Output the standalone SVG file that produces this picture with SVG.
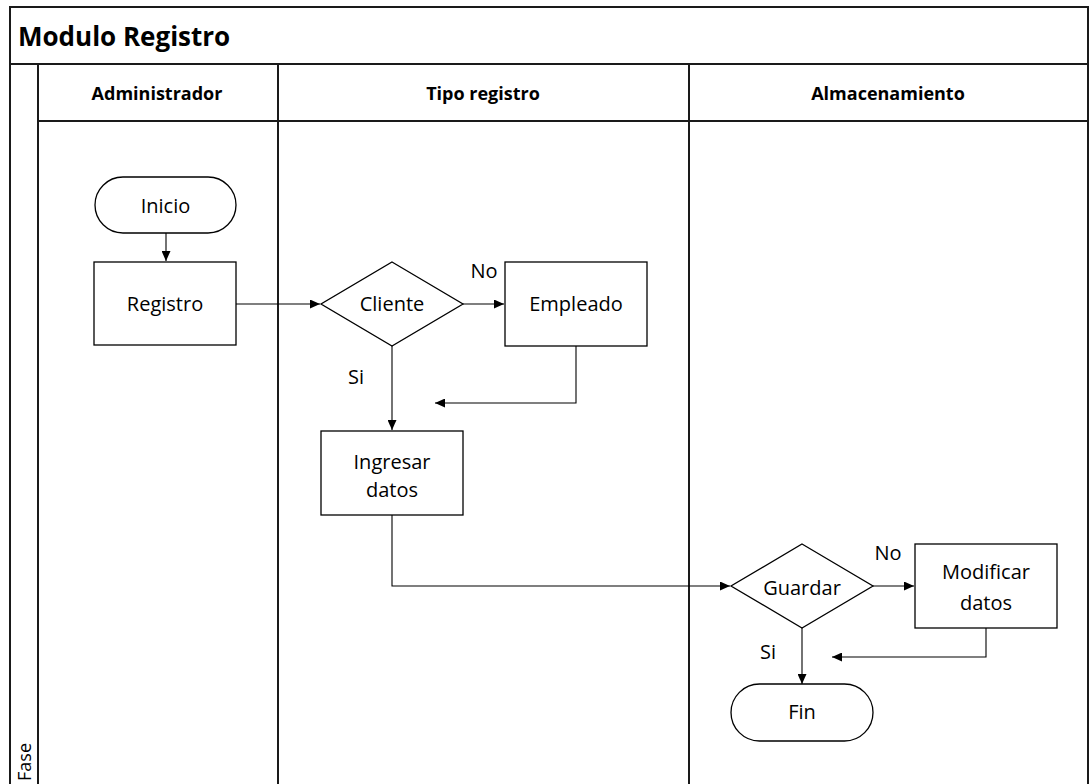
<svg xmlns="http://www.w3.org/2000/svg" width="1091" height="784" viewBox="0 0 1091 784">
  <defs>
    <marker id="arrow" viewBox="0 0 10 10" refX="10" refY="5" markerWidth="10" markerHeight="9" markerUnits="userSpaceOnUse" orient="auto" preserveAspectRatio="none">
      <path d="M0,0 L10,5 L0,10 Z" fill="#000"/>
    </marker>
    <style>
      .frame { fill: none; stroke: #1a1a1a; stroke-width: 2; }
      .shape { fill: #fff; stroke: #000; stroke-width: 1.3; }
      .edge { fill: none; stroke: #000; stroke-width: 1.1; marker-end: url(#arrow); }
      .title { font-family: "Open Sans", "Noto Sans", sans-serif; font-weight: bold; font-size: 26px; fill: #000; }
      .lane { font-family: "Open Sans", "Noto Sans", sans-serif; font-weight: bold; font-size: 18px; fill: #000; text-anchor: middle; }
      .label { font-family: "Open Sans", "Noto Sans", sans-serif; font-size: 20px; fill: #000; text-anchor: middle; }
    </style>
  </defs>

  <rect width="1091" height="784" fill="#fff"/>

  <!-- pool frame with title, lane headers and phase column -->
  <g id="pool">
    <path class="frame" d="M10,790 V7 H1088 V790"/>
    <line class="frame" x1="10" y1="64" x2="1088" y2="64"/>
    <line class="frame" x1="38" y1="121" x2="1088" y2="121"/>
    <line class="frame" x1="38" y1="64" x2="38" y2="790"/>
    <line class="frame" x1="278" y1="64" x2="278" y2="790"/>
    <line class="frame" x1="689" y1="64" x2="689" y2="790"/>
    <text class="title" x="18" y="46">Modulo Registro</text>
    <text class="lane" x="157" y="100">Administrador</text>
    <text class="lane" x="483" y="100">Tipo registro</text>
    <text class="lane" x="888" y="100">Almacenamiento</text>
    <text class="label" transform="translate(31,762) rotate(-90)" style="font-size:18px">Fase</text>
  </g>

  <!-- connectors and branch labels -->
  <g id="connectors">
    <path class="edge" d="M166,233 V261"/>
    <path class="edge" d="M236,304 H320"/>
    <path class="edge" d="M463,304 H504"/>
    <path class="edge" d="M576,346 V403 H435"/>
    <path class="edge" d="M392,346 V430"/>
    <path class="edge" d="M392,515 V586 H730"/>
    <path class="edge" d="M873,586 H914"/>
    <path class="edge" d="M986,628 V657 H832"/>
    <path class="edge" d="M802,628 V684"/>
    <text class="label" x="484" y="278">No</text>
    <text class="label" x="356" y="384">Si</text>
    <text class="label" x="888" y="560">No</text>
    <text class="label" x="768" y="659">Si</text>
  </g>

  <g id="inicio">
    <rect class="shape" x="95" y="177" width="141" height="56" rx="28" ry="28"/>
    <text class="label" x="165.5" y="213">Inicio</text>
  </g>

  <g id="registro">
    <rect class="shape" x="94" y="262" width="142" height="83"/>
    <text class="label" x="165" y="311">Registro</text>
  </g>

  <g id="cliente">
    <polygon class="shape" points="392,262 463,304 392,346 321,304"/>
    <text class="label" x="392" y="311">Cliente</text>
  </g>

  <g id="empleado">
    <rect class="shape" x="505" y="262" width="142" height="84"/>
    <text class="label" x="576" y="311">Empleado</text>
  </g>

  <g id="ingresar-datos">
    <rect class="shape" x="321" y="431" width="142" height="84"/>
    <text class="label" x="392" y="469">Ingresar</text>
    <text class="label" x="392" y="497">datos</text>
  </g>

  <g id="guardar">
    <polygon class="shape" points="802,544 873,586 802,628 731,586"/>
    <text class="label" x="802" y="595">Guardar</text>
  </g>

  <g id="modificar-datos">
    <rect class="shape" x="915" y="544" width="142" height="84"/>
    <text class="label" x="986" y="579">Modificar</text>
    <text class="label" x="986" y="610">datos</text>
  </g>

  <g id="fin">
    <rect class="shape" x="731" y="684" width="142" height="57" rx="28.5" ry="28.5"/>
    <text class="label" x="802" y="719">Fin</text>
  </g>
</svg>
